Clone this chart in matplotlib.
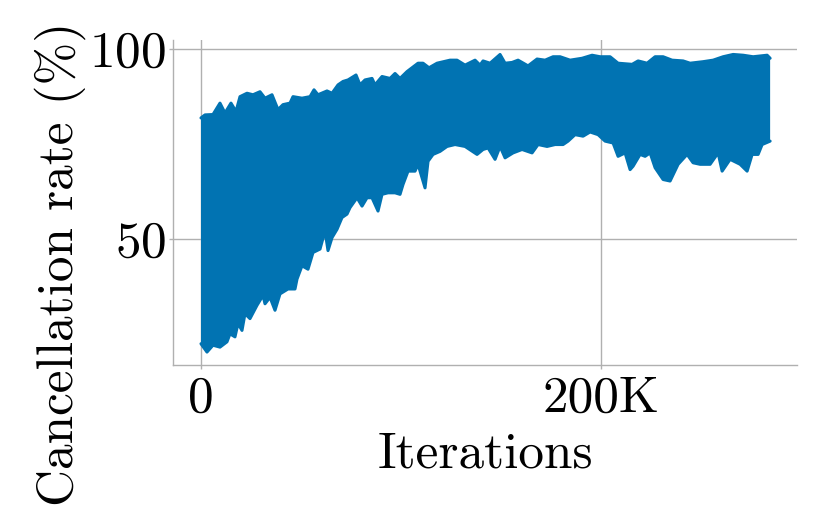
import matplotlib
matplotlib.use("Agg")
import matplotlib.pyplot as plt
from matplotlib.ticker import FuncFormatter

plt.rcParams["font.family"] = "cmr10"
plt.rcParams["mathtext.fontset"] = "cm"
plt.rcParams["axes.formatter.use_mathtext"] = True

# upper / lower edge of the noisy cancellation-rate trace (iterations in K, rate in %)
upper_iters = [0, 2, 6, 9.5, 12, 15, 17.5, 19.5, 23, 26, 29.5, 32, 35.5, 38.5, 41,
               44.5, 46, 50.5, 54.5, 56.5, 58.5, 63, 65.5, 68.5, 71, 73.5, 77.5,
               79.5, 82, 85.5, 87, 90.5, 94.5, 97, 99.5, 103, 108.5, 111, 114, 118,
               124.5, 128, 132, 137, 139.5, 141, 144.5, 149.5, 152, 155.5, 158.5,
               163.5, 168, 172, 176, 179.5, 184.5, 190.5, 195.5, 199.5, 204.5,
               208.5, 215.5, 218.5, 223, 227, 231, 235.5, 241, 244.5, 251, 256,
               261, 266, 271, 276, 283, 284.5]
upper_rate = [81.8, 82.6, 82.7, 85.7, 83.1, 85.7, 83.5, 87.4, 88.3, 87.9, 88.7, 87.0,
              87.9, 84.0, 85.3, 85.7, 87.4, 87.0, 87.4, 89.2, 87.9, 88.9, 88.3, 90.5,
              91.4, 91.8, 93.1, 90.5, 91.8, 92.2, 90.5, 92.7, 92.2, 93.5, 92.2, 94.0,
              96.2, 96.2, 95.0, 96.2, 97.0, 97.0, 95.7, 97.0, 95.7, 96.8, 96.2, 98.5,
              96.2, 96.4, 97.0, 95.5, 97.3, 97.0, 97.9, 97.9, 97.0, 97.5, 98.3, 97.9,
              97.9, 96.2, 95.9, 96.8, 96.2, 97.9, 97.9, 97.0, 96.8, 96.2, 96.6, 97.0,
              97.9, 98.5, 98.3, 97.9, 98.3, 97.5]

lower_iters = [0, 3, 6, 9.5, 13, 14.5, 17, 18.5, 20.5, 22, 24.5, 28, 31, 32, 34.5,
               37, 39.5, 43.5, 47, 48, 50.5, 53.5, 56, 59.5, 62, 63.5, 65.5, 68,
               70.5, 73, 74.5, 78, 80.5, 83, 85.5, 88.5, 90.5, 93.5, 97, 99.5, 101,
               103.5, 107, 108.5, 112, 113.5, 116, 119.5, 123, 127, 132, 138, 141,
               143.5, 147, 149.5, 152, 156, 160.5, 165.5, 168.5, 173, 177, 181,
               183.5, 187, 191, 194.5, 198.5, 202, 206, 208.5, 212, 214.5, 216,
               219.5, 222, 224.5, 227, 231, 234.5, 238.5, 243, 246, 249.5, 254.5,
               258.5, 260.5, 264.5, 269.5, 273, 275.5, 278.5, 280.5, 284.5]
lower_rate = [22.4, 20.2, 22.0, 21.5, 22.9, 25.0, 24.2, 27.7, 25.9, 30.3, 29.0, 32.5,
              35.1, 32.9, 34.6, 31.2, 35.5, 36.8, 36.8, 39.4, 42.9, 42.0, 46.4, 47.3,
              52.1, 46.9, 50.3, 52.5, 55.6, 56.5, 58.2, 60.8, 58.6, 60.8, 60.8, 57.3,
              61.7, 62.1, 62.1, 61.7, 64.3, 67.8, 67.8, 69.6, 63.4, 70.4, 72.2, 73.0,
              74.3, 74.8, 74.3, 72.2, 73.5, 73.9, 70.9, 74.3, 71.3, 72.6, 73.5, 72.6,
              74.8, 74.3, 74.8, 74.8, 75.7, 77.4, 77.0, 78.1, 77.4, 75.7, 75.2, 71.7,
              72.6, 68.2, 69.1, 72.2, 71.7, 72.6, 68.7, 65.6, 65.2, 69.6, 72.2, 70.0,
              69.6, 69.6, 72.6, 67.8, 70.9, 69.6, 67.8, 72.2, 72.2, 74.8, 75.7]

x_ticks = [0, 200000]
y_ticks = [50, 100]
color = "#0173b2"
gray = "#b0b0b0"
fs = 37

fig = plt.figure(figsize=(8.3, 5.13), dpi=100)
ax = fig.add_axes([0.2084, 0.2885, 0.752, 0.6335])

up_x = [v * 1000 for v in upper_iters]
lo_x = [v * 1000 for v in lower_iters]

# band: upper edge left to right, lower edge back right to left
ax.fill(up_x + lo_x[::-1], upper_rate + lower_rate[::-1], color=color, lw=0, zorder=2)
ax.plot(up_x, upper_rate, color=color, lw=2.2, solid_capstyle="round", zorder=3)
ax.plot(lo_x, lower_rate, color=color, lw=2.2, solid_capstyle="round", zorder=3)

ax.set_xlim(-14000, 298000)
ax.set_ylim(16.8, 102.3)
ax.set_xticks(x_ticks)
ax.set_yticks(y_ticks)
ax.xaxis.set_major_formatter(FuncFormatter(lambda v, p: "0" if v == 0 else f"{int(v / 1000)}K"))

ax.grid(True, color=gray, lw=1.0, zorder=0)
ax.set_axisbelow(True)
for s in ["top", "right"]:
    ax.spines[s].set_visible(False)
for s in ["left", "bottom"]:
    ax.spines[s].set_color(gray)
    ax.spines[s].set_linewidth(1.0)
ax.tick_params(axis="both", colors=gray, labelcolor="black", length=3, width=1,
               labelsize=fs, pad=5)
ax.tick_params(axis="y", pad=2)

ax.set_xlabel("Iterations", fontsize=fs, labelpad=7)
ax.set_ylabel("Cancellation rate (%)", fontsize=fs)
ax.yaxis.set_label_coords(-0.139, 0.31)

fig.savefig("out.png", dpi=100)
